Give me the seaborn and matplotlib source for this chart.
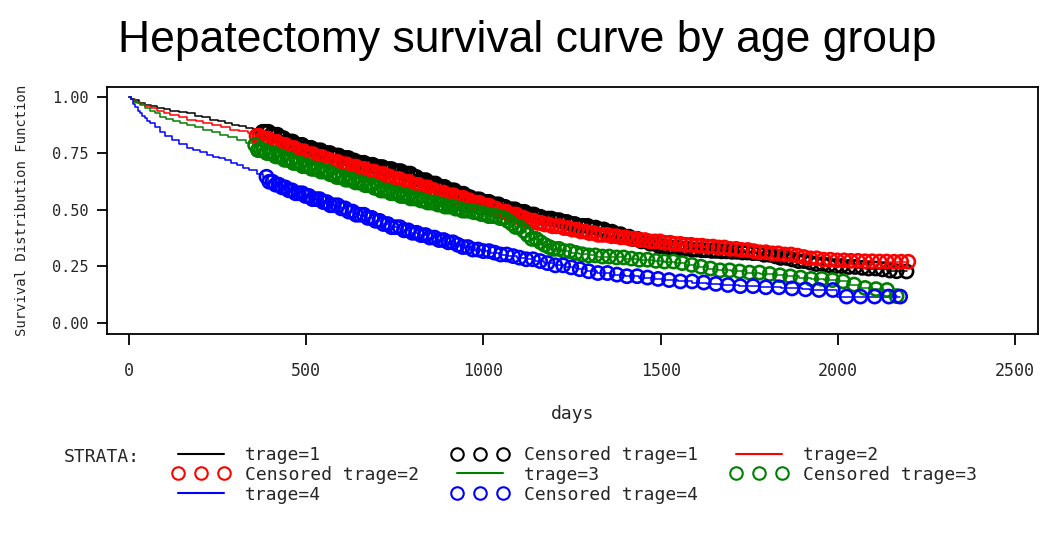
import numpy as np
import matplotlib
matplotlib.use('Agg')
import matplotlib.pyplot as plt
from matplotlib.lines import Line2D
import seaborn as sns

# strata / colours
strata = ['1', '2', '3', '4']
colors = ['#000000', '#FF0000', '#008000', '#0000FF']

# Kaplan-Meier steps: (day of drop, survival after it)
km_1 = [(0, 1.0), (6, 0.992), (15, 0.985), (28, 0.975), (45, 0.965), (62, 0.958), (80, 0.952), (98, 0.946),
        (116, 0.94), (140, 0.934), (163, 0.927), (185, 0.918), (207, 0.91), (229, 0.90), (250, 0.892),
        (270, 0.884), (290, 0.876), (310, 0.87), (330, 0.864), (350, 0.857), (372, 0.846), (395, 0.833),
        (420, 0.818), (445, 0.803), (470, 0.788), (495, 0.775), (520, 0.764), (545, 0.752), (570, 0.741),
        (595, 0.73), (620, 0.719), (645, 0.709), (670, 0.70), (695, 0.69), (720, 0.681), (745, 0.672),
        (770, 0.661), (795, 0.646), (820, 0.632), (845, 0.617), (870, 0.602), (895, 0.587), (920, 0.572),
        (945, 0.557), (970, 0.547), (995, 0.536), (1020, 0.525), (1045, 0.514), (1070, 0.503), (1095, 0.492),
        (1120, 0.48), (1145, 0.47), (1170, 0.462), (1195, 0.455), (1220, 0.447), (1245, 0.438), (1270, 0.43),
        (1295, 0.422), (1320, 0.414), (1345, 0.404), (1370, 0.393), (1395, 0.382), (1420, 0.372),
        (1445, 0.361), (1470, 0.351), (1495, 0.34), (1520, 0.333), (1550, 0.329), (1580, 0.325),
        (1610, 0.322), (1640, 0.319), (1670, 0.317), (1700, 0.315), (1730, 0.312), (1760, 0.309),
        (1785, 0.302), (1810, 0.295), (1835, 0.288), (1860, 0.281), (1885, 0.274), (1910, 0.267),
        (1935, 0.261), (1960, 0.256), (1990, 0.252), (2020, 0.248), (2050, 0.244), (2080, 0.241),
        (2110, 0.237), (2140, 0.232), (2165, 0.229), (2194, 0.228)]

km_2 = [(0, 1.0), (7, 0.99), (18, 0.978), (32, 0.968), (45, 0.96), (62, 0.95), (80, 0.94), (98, 0.93),
        (116, 0.92), (140, 0.91), (165, 0.90), (188, 0.892), (210, 0.884), (235, 0.875), (260, 0.865),
        (285, 0.855), (310, 0.848), (335, 0.84), (355, 0.828), (370, 0.816), (395, 0.802), (420, 0.788),
        (445, 0.774), (470, 0.76), (495, 0.747), (520, 0.735), (545, 0.724), (570, 0.713), (595, 0.702),
        (620, 0.692), (645, 0.681), (670, 0.67), (695, 0.659), (720, 0.648), (745, 0.637), (770, 0.625),
        (795, 0.611), (820, 0.60), (845, 0.588), (870, 0.577), (895, 0.565), (920, 0.554), (945, 0.543),
        (970, 0.532), (995, 0.519), (1020, 0.506), (1045, 0.493), (1070, 0.48), (1095, 0.466), (1120, 0.453),
        (1145, 0.443), (1170, 0.436), (1195, 0.428), (1220, 0.42), (1245, 0.413), (1270, 0.405),
        (1295, 0.398), (1320, 0.39), (1350, 0.384), (1380, 0.379), (1410, 0.373), (1440, 0.367),
        (1470, 0.361), (1500, 0.355), (1535, 0.35), (1565, 0.346), (1595, 0.342), (1625, 0.338),
        (1655, 0.334), (1690, 0.328), (1720, 0.323), (1750, 0.318), (1780, 0.313), (1810, 0.308),
        (1840, 0.303), (1870, 0.298), (1895, 0.292), (1920, 0.286), (1945, 0.28), (1980, 0.277),
        (2020, 0.275), (2060, 0.273), (2100, 0.272), (2150, 0.271), (2199, 0.271)]

km_3 = [(0, 1.0), (6, 0.99), (14, 0.98), (22, 0.972), (31, 0.965), (45, 0.952), (60, 0.94), (73, 0.927),
        (87, 0.913), (105, 0.903), (125, 0.893), (145, 0.884), (163, 0.876), (185, 0.866), (210, 0.855),
        (235, 0.843), (257, 0.832), (280, 0.821), (305, 0.81), (330, 0.798), (350, 0.788), (362, 0.765),
        (385, 0.752), (410, 0.737), (435, 0.722), (460, 0.708), (485, 0.694), (510, 0.682), (535, 0.67),
        (560, 0.658), (585, 0.646), (610, 0.634), (635, 0.622), (660, 0.61), (685, 0.598), (710, 0.586),
        (735, 0.574), (760, 0.562), (790, 0.551), (815, 0.542), (840, 0.533), (865, 0.524), (890, 0.515),
        (915, 0.506), (940, 0.497), (965, 0.49), (990, 0.482), (1015, 0.473), (1040, 0.464), (1060, 0.452),
        (1075, 0.44), (1090, 0.425), (1105, 0.408), (1120, 0.39), (1135, 0.372), (1150, 0.358),
        (1165, 0.346), (1180, 0.336), (1195, 0.328), (1220, 0.318), (1245, 0.31), (1270, 0.304),
        (1295, 0.299), (1320, 0.294), (1360, 0.29), (1400, 0.285), (1440, 0.28), (1480, 0.275),
        (1510, 0.272), (1540, 0.265), (1570, 0.257), (1600, 0.249), (1630, 0.241), (1660, 0.233),
        (1700, 0.228), (1740, 0.223), (1780, 0.217), (1820, 0.211), (1856, 0.206), (1890, 0.201),
        (1925, 0.195), (1960, 0.19), (1997, 0.184), (2030, 0.17), (2063, 0.155), (2090, 0.15),
        (2119, 0.146), (2145, 0.135), (2160, 0.119), (2166, 0.119)]

km_4 = [(0, 1.0), (5, 0.99), (12, 0.968), (18, 0.955), (25, 0.94), (31, 0.928), (38, 0.916), (45, 0.905),
        (52, 0.895), (59, 0.884), (73, 0.865), (87, 0.847), (103, 0.828), (120, 0.81), (140, 0.792),
        (163, 0.773), (180, 0.765), (200, 0.755), (220, 0.745), (238, 0.736), (255, 0.728), (270, 0.72),
        (287, 0.71), (304, 0.699), (322, 0.687), (340, 0.675), (360, 0.661), (379, 0.647), (392, 0.625),
        (410, 0.612), (430, 0.60), (450, 0.587), (470, 0.574), (490, 0.562), (515, 0.548), (540, 0.535),
        (565, 0.521), (590, 0.507), (615, 0.493), (640, 0.479), (665, 0.465), (690, 0.452), (715, 0.438),
        (740, 0.424), (765, 0.41), (790, 0.399), (815, 0.389), (840, 0.378), (865, 0.367), (890, 0.357),
        (915, 0.346), (940, 0.336), (970, 0.325), (995, 0.318), (1020, 0.311), (1045, 0.303), (1070, 0.296),
        (1095, 0.289), (1120, 0.282), (1145, 0.274), (1170, 0.265), (1200, 0.255), (1230, 0.246),
        (1260, 0.238), (1290, 0.229), (1320, 0.221), (1360, 0.214), (1400, 0.207), (1440, 0.201),
        (1480, 0.195), (1510, 0.19), (1550, 0.184), (1590, 0.179), (1630, 0.173), (1668, 0.168),
        (1720, 0.163), (1780, 0.158), (1840, 0.153), (1900, 0.149), (1921, 0.146), (1997, 0.117),
        (2176, 0.117)]

# censoring times (estimated from the density of the circle marks)
cens_days_1 = [377, 385, 394, 401, 410, 419, 427, 436, 446, 454, 462, 471, 481, 489, 498, 505, 514, 524, 532,
               541, 549, 557, 567, 575, 584, 592, 602, 610, 619, 627, 636, 645, 653, 663, 671, 680, 688, 698,
               706, 715, 723, 733, 741, 750, 759, 767, 777, 785, 794, 803, 811, 821, 829, 838, 847, 856, 865,
               873, 883, 891, 900, 910, 918, 927, 936, 944, 954, 962, 971, 981, 989, 998, 1008, 1016, 1026,
               1034, 1043, 1053, 1061, 1071, 1079, 1089, 1097, 1107, 1116, 1124, 1134, 1143, 1152, 1161, 1171,
               1182, 1192, 1204, 1214, 1226, 1236, 1248, 1258, 1271, 1281, 1294, 1304, 1317, 1327, 1340, 1350,
               1363, 1374, 1387, 1398, 1411, 1422, 1435, 1446, 1460, 1471, 1484, 1496, 1510, 1522, 1536, 1548,
               1562, 1574, 1589, 1601, 1616, 1629, 1644, 1657, 1672, 1686, 1701, 1715, 1731, 1745, 1761, 1776,
               1792, 1807, 1824, 1839, 1856, 1872, 1889, 1905, 1923, 1940, 1958, 1975, 1994, 2011, 2031, 2049,
               2069, 2087, 2107, 2126, 2147, 2166, 2194]
cens_days_2 = [360, 368, 376, 384, 392, 400, 408, 417, 425, 433, 442, 450, 459, 467, 476, 484, 493, 501, 510,
               519, 527, 536, 544, 553, 562, 570, 579, 588, 596, 605, 614, 622, 631, 640, 649, 657, 666, 675,
               684, 692, 701, 710, 719, 728, 736, 745, 754, 763, 772, 781, 790, 799, 808, 816, 825, 834, 843,
               852, 861, 870, 879, 888, 897, 906, 916, 925, 934, 943, 952, 961, 970, 980, 989, 998, 1007, 1017,
               1026, 1035, 1045, 1054, 1064, 1073, 1083, 1093, 1102, 1112, 1122, 1132, 1142, 1152, 1163, 1173,
               1184, 1195, 1206, 1217, 1228, 1240, 1251, 1263, 1275, 1287, 1299, 1311, 1324, 1336, 1349, 1362,
               1375, 1388, 1401, 1415, 1428, 1442, 1456, 1470, 1484, 1498, 1512, 1527, 1541, 1556, 1571, 1586,
               1601, 1617, 1632, 1648, 1664, 1680, 1696, 1713, 1729, 1746, 1763, 1780, 1797, 1815, 1832, 1850,
               1868, 1886, 1904, 1923, 1941, 1960, 1979, 1998, 2018, 2037, 2057, 2077, 2097, 2118, 2138, 2159,
               2179, 2199]
cens_days_3 = [356, 364, 372, 380, 389, 397, 405, 414, 422, 430, 439, 447, 456, 464, 473, 481, 490, 498, 507,
               516, 524, 533, 542, 550, 559, 568, 577, 586, 594, 603, 612, 621, 630, 639, 648, 657, 666, 675,
               684, 693, 702, 711, 721, 730, 739, 748, 758, 767, 776, 786, 795, 805, 814, 824, 833, 843, 853,
               862, 872, 882, 892, 902, 912, 922, 932, 942, 952, 962, 973, 983, 994, 1004, 1015, 1025, 1036,
               1047, 1058, 1069, 1080, 1091, 1102, 1114, 1125, 1137, 1149, 1161, 1173, 1186, 1199, 1213, 1228,
               1244, 1261, 1279, 1297, 1316, 1336, 1355, 1376, 1396, 1418, 1440, 1463, 1487, 1511, 1536, 1561,
               1588, 1614, 1641, 1668, 1695, 1723, 1751, 1779, 1808, 1837, 1866, 1895, 1925, 1955, 1985, 2015,
               2046, 2077, 2108, 2139, 2166]
cens_days_4 = [388, 396, 405, 414, 423, 432, 441, 451, 460, 470, 479, 489, 498, 508, 518, 528, 538, 548, 558,
               568, 578, 589, 599, 610, 620, 631, 641, 652, 663, 674, 685, 696, 707, 718, 730, 741, 753, 764,
               776, 788, 800, 812, 824, 837, 849, 862, 875, 888, 901, 914, 928, 942, 956, 970, 985, 1000, 1016,
               1032, 1049, 1066, 1084, 1102, 1121, 1140, 1160, 1181, 1203, 1225, 1248, 1272, 1297, 1323, 1350,
               1377, 1405, 1434, 1463, 1493, 1524, 1556, 1589, 1622, 1656, 1690, 1725, 1761, 1797, 1834, 1871,
               1909, 1947, 1986, 2025, 2064, 2104, 2144, 2176]

x_ticks = [0, 500, 1000, 1500, 2000, 2500]
y_ticks = [0.0, 0.25, 0.5, 0.75, 1.0]

km_all = [km_1, km_2, km_3, km_4]
cens_days = [cens_days_1, cens_days_2, cens_days_3, cens_days_4]

sns.set_theme(style='white')
plt.rcParams['font.family'] = ['DejaVu Sans Mono']
mono = 'DejaVu Sans Mono'

fig = plt.figure(figsize=(10.5, 5.39), dpi=100)
ax = fig.add_axes([107 / 1050, 1 - 334 / 539, 931 / 1050, 247 / 539])

for km, c, col in zip(km_all, cens_days, colors):
    d = np.array([p[0] for p in km])
    s = np.array([p[1] for p in km])
    sns.lineplot(x=d, y=s, ax=ax, color=col, lw=1.1, drawstyle='steps-post',
                 estimator=None, sort=False, zorder=2)
    # censor marks sit on the step curve
    idx = np.searchsorted(d, np.array(c), side='right') - 1
    sns.scatterplot(x=c, y=s[idx], ax=ax, marker='o', s=90, color=col, linewidth=1.9, zorder=3)
    coll = ax.collections[-1]
    coll.set_facecolor('none')
    coll.set_edgecolor(col)

ax.set_xlim(-62, 2565)
ax.set_ylim(-0.0487, 1.0442)
ax.set_xticks(x_ticks)
ax.set_xticklabels([str(t) for t in x_ticks], fontfamily=mono, fontsize=12)
ax.set_yticks(y_ticks)
ax.set_yticklabels(['%.2f' % t for t in y_ticks], fontfamily=mono, fontsize=11)
ax.tick_params(axis='x', direction='out', length=8, width=1.3, color='black', pad=12, bottom=True)
ax.tick_params(axis='y', direction='out', length=7, width=1.3, color='black', pad=6, left=True)
ax.set_xlabel('')
ax.set_ylabel('')
for sp in ax.spines.values():
    sp.set_visible(True)
    sp.set_color('black')
    sp.set_linewidth(1.3)

fig.text(527 / 1050, 1 - 52 / 539, 'Hepatectomy survival curve by age group', ha='center', va='baseline',
         fontsize=32, family='Liberation Sans', color='black')
fig.text(22.5 / 1050, 1 - 210 / 539, 'Survival Distribution Function', rotation=90, ha='center',
         va='center', fontsize=10, family=mono)
fig.text(573 / 1050, 1 - 414 / 539, 'days', ha='center', va='center', fontsize=13, family=mono)
fig.text(64 / 1050, 1 - 457 / 539, 'STRATA:', ha='left', va='center', fontsize=13, family=mono)

# legend, SAS order filled row by row over 3 columns
line_h = [Line2D([], [], color=col, lw=1.5) for col in colors]
cens_h = [Line2D([], [], ls='none', marker='o', ms=9, mfc='none', mec=col, mew=1.5) for col in colors]
line_l = ['trage=' + k for k in strata]
cens_l = ['Censored trage=' + k for k in strata]
handles = [line_h[0], cens_h[1], line_h[3], cens_h[0], line_h[2], cens_h[3], line_h[1], cens_h[2]]
labels = [line_l[0], cens_l[1], line_l[3], cens_l[0], line_l[2], cens_l[3], line_l[1], cens_l[2]]
fig.legend(handles, labels, ncol=3, loc='upper left', bbox_to_anchor=(173 / 1050, 1 - 446 / 539),
           frameon=False, prop={'family': mono, 'size': 13}, handlelength=3.15, handletextpad=0.83,
           columnspacing=1.83, labelspacing=0.1, borderpad=0, borderaxespad=0, numpoints=3)

fig.savefig('out.png', dpi=100)
